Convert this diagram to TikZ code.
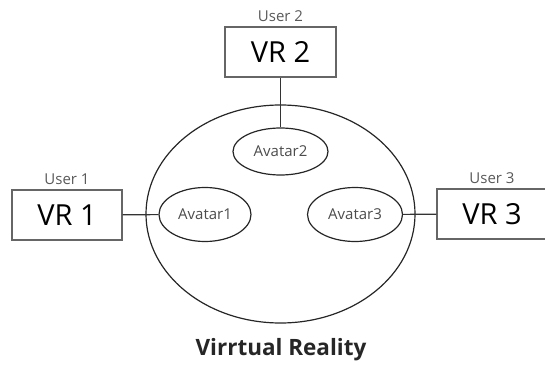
\documentclass[tikz,border=0pt]{standalone}
\usepackage{fontspec}
\setmainfont{Open Sans}
\usepackage{xcolor}
\usepackage{tikz}
\usetikzlibrary{positioning,shapes.geometric}

\begin{document}
\begin{tikzpicture}[x=1pt, y=1pt, node distance=1pt]
\tikzstyle{vrbox} = [rectangle, minimum width=110pt, minimum height=50pt, inner sep=0pt, text centered, draw=black!60, line width=1.2pt, font=\fontsize{29}{32}\selectfont]
\tikzstyle{avatar} = [ellipse, minimum width=92pt, minimum height=54pt, inner sep=0pt, text centered, draw=black!85, line width=1.2pt, text=black!70, font=\fontsize{15}{17}\selectfont]
\tikzstyle{world} = [ellipse, minimum width=269pt, minimum height=218pt, inner sep=0pt, draw=black!85, line width=1.2pt]
\tikzstyle{user} = [text=black!65, font=\fontsize{15}{17}\selectfont]
\tikzstyle{link} = [line width=1.1pt, draw=black!80]

\useasboundingbox (0,0) rectangle (545,367);

% Nodes
\node (vrworld) [world] at (280.5,153) {};
\node (avatar1) [avatar] at (205,152.5) {Avatar1};
\node (avatar2) [avatar, minimum width=95pt, minimum height=47pt] at (280.5,215.5) {Avatar2};
\node (avatar3) [avatar, minimum width=95pt] at (355,152.5) {Avatar3};
\node (vr1) [vrbox] at (67,152) {VR 1};
\node (vr2) [vrbox, minimum width=111pt] at (280.5,315) {VR 2};
\node (vr3) [vrbox] at (492,153) {VR 3};
\node (user1) [user, above=of vr1] {User 1};
\node (user2) [user, above=of vr2] {User 2};
\node (user3) [user, above=of vr3] {User 3};
\node (title) [font=\fontsize{22.5}{26}\selectfont\bfseries, text=black!85] at (281,17) {Virrtual Reality};

% Lines
\draw [link] (vr1) -- (avatar1);
\draw [link] (vr2) -- (avatar2);
\draw [link] (avatar3) -- (vr3);

\end{tikzpicture}
\end{document}
